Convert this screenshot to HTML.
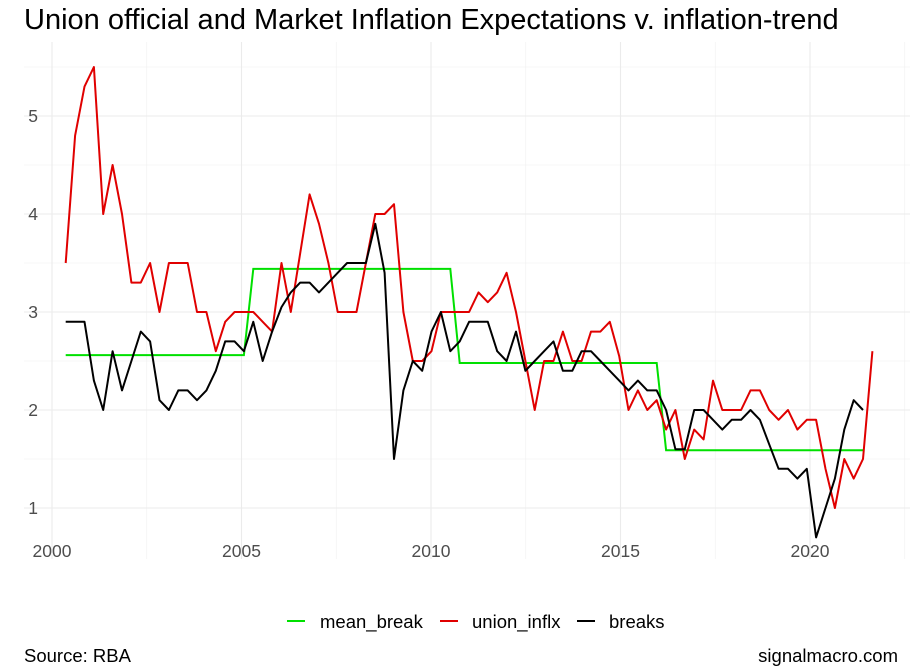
<!DOCTYPE html>
<html><head><meta charset="utf-8">
<style>
html,body{margin:0;padding:0;background:#fff;}
svg{display:block;font-family:"Liberation Sans",Arial,sans-serif;}
</style></head>
<body>
<svg id="chart" width="920" height="672" viewBox="0 0 920 672">
  <text x="24" y="29" font-size="29" fill="#000">Union official and Market Inflation Expectations v. inflation-trend</text>
  <g id="grid"></g>
  <g id="yticks"></g>
  <g id="xticks"></g>
  <g id="series"></g>
  <g font-size="18.5" fill="#000">
    <g>
      <line x1="287" y1="621" x2="305" y2="621" stroke="#00e000" stroke-width="2"/>
      <text x="320" y="628">mean_break</text>
    </g>
    <g>
      <line x1="440" y1="621" x2="458" y2="621" stroke="#e00000" stroke-width="2"/>
      <text x="472" y="628">union_inflx</text>
    </g>
    <g>
      <line x1="577" y1="621" x2="595" y2="621" stroke="#000" stroke-width="2"/>
      <text x="609" y="628">breaks</text>
    </g>
  </g>
  <text x="24" y="662" font-size="18.5" fill="#000">Source: RBA</text>
  <text x="898" y="662" font-size="18.5" fill="#000" text-anchor="end">signalmacro.com</text>
</svg>
<script>
const startYear = 2000.362;
const stepYear = 0.2475;
const unionInflx = [3.5,4.8,5.3,5.5,4.0,4.5,4.0,3.3,3.3,3.5,
3.0,3.5,3.5,3.5,3.0,3.0,2.6,2.9,3.0,3.0,
3.0,2.9,2.8,3.5,3.0,3.6,4.2,3.9,3.5,3.0,
3.0,3.0,3.5,4.0,4.0,4.1,3.0,2.5,2.5,2.6,
3.0,3.0,3.0,3.0,3.2,3.1,3.2,3.4,3.0,2.5,
2.0,2.5,2.5,2.8,2.5,2.5,2.8,2.8,2.9,2.55,
2.0,2.2,2.0,2.1,1.8,2.0,1.5,1.8,1.7,2.3,
2.0,2.0,2.0,2.2,2.2,2.0,1.9,2.0,1.8,1.9,
1.9,1.4,1.0,1.5,1.3,1.5,2.6];
const breaks = [2.9,2.9,2.9,2.3,2.0,2.6,2.2,2.5,2.8,2.7,
2.1,2.0,2.2,2.2,2.1,2.2,2.4,2.7,2.7,2.6,
2.9,2.5,2.8,3.05,3.2,3.3,3.3,3.2,3.3,3.4,
3.5,3.5,3.5,3.9,3.4,1.5,2.2,2.5,2.4,2.8,
3.0,2.6,2.7,2.9,2.9,2.9,2.6,2.5,2.8,2.4,
2.5,2.6,2.7,2.4,2.4,2.6,2.6,2.5,2.4,2.3,
2.2,2.3,2.2,2.2,2.0,1.6,1.6,2.0,2.0,1.9,
1.8,1.9,1.9,2.0,1.9,1.65,1.4,1.4,1.3,1.4,
0.7,1.0,1.3,1.8,2.1,2.0];
const meanBreakValues = [2.56,3.44,2.48,1.59];
const meanBreakStarts = [0,20,42,64];
const meanBreakEnd = 85;
const xTicks = [2000,2005,2010,2015,2020];
const xMinor = [2002.5,2007.5,2012.5,2017.5,2022.5];
const yTicks = [1,2,3,4,5];
const yMinor = [1.5,2.5,3.5,4.5,5.5];

const NS = "http://www.w3.org/2000/svg";
function xs(yr){ return 52 + (yr-2000)*37.9; }
function ys(v){ return 410 - (v-2)*98; }
function tOf(i){ return startYear + i*stepYear; }
function mk(tag, attrs, parent){
  const e = document.createElementNS(NS, tag);
  for (const k in attrs) e.setAttribute(k, attrs[k]);
  parent.appendChild(e); return e;
}
const grid = document.getElementById('grid');
const L = 24, R = 910, T = 42, B = 559;
yMinor.forEach(v=>{ const l = mk('line',{x1:L,x2:R,y1:ys(v),y2:ys(v),stroke:'#f0f0f0','stroke-width':0.6},grid);
  
   });
xMinor.forEach(v=>{ const l = mk('line',{x1:xs(v),x2:xs(v),y1:T,y2:B,stroke:'#f0f0f0','stroke-width':0.6},grid);
  
   });
yTicks.forEach(v=>{ const l = mk('line',{x1:L,x2:R,y1:ys(v),y2:ys(v),stroke:'#ebebeb','stroke-width':1.1},grid);
  
   });
xTicks.forEach(v=>{ const l = mk('line',{x1:xs(v),x2:xs(v),y1:T,y2:B,stroke:'#ebebeb','stroke-width':1.1},grid);
  
   });
const yt = document.getElementById('yticks');
yTicks.forEach(v=>{ const t = mk('text',{x:38,y:ys(v)+6,'font-size':17.5,fill:'#4d4d4d','text-anchor':'end'},yt);
  t.textContent = String(v);
  
   });
const xt = document.getElementById('xticks');
xTicks.forEach(v=>{ const t = mk('text',{x:xs(v),y:557,'font-size':17.5,fill:'#4d4d4d','text-anchor':'middle'},xt);
  t.textContent = String(v);
  
   });

const series = document.getElementById('series');
let md = '';
meanBreakStarts.forEach((s,k)=>{
  const e = k < meanBreakStarts.length-1 ? meanBreakStarts[k+1]-1 : meanBreakEnd;
  md += (k===0 ? 'M' : 'L') + xs(tOf(s)).toFixed(1) + ',' + ys(meanBreakValues[k]).toFixed(1);
  md += 'L' + xs(tOf(e)).toFixed(1) + ',' + ys(meanBreakValues[k]).toFixed(1);
});
const mp = mk('path',{d:md,fill:'none',stroke:'#00e000','stroke-width':2},series);



function linePath(arr){ return arr.map((v,i)=>(i?'L':'M')+xs(tOf(i)).toFixed(1)+','+ys(v).toFixed(1)).join(''); }
const up = mk('path',{d:linePath(unionInflx),fill:'none',stroke:'#e00000','stroke-width':2,'stroke-linejoin':'round'},series);


const bp = mk('path',{d:linePath(breaks),fill:'none',stroke:'#000','stroke-width':2,'stroke-linejoin':'round'},series);


</script>
</body></html>
